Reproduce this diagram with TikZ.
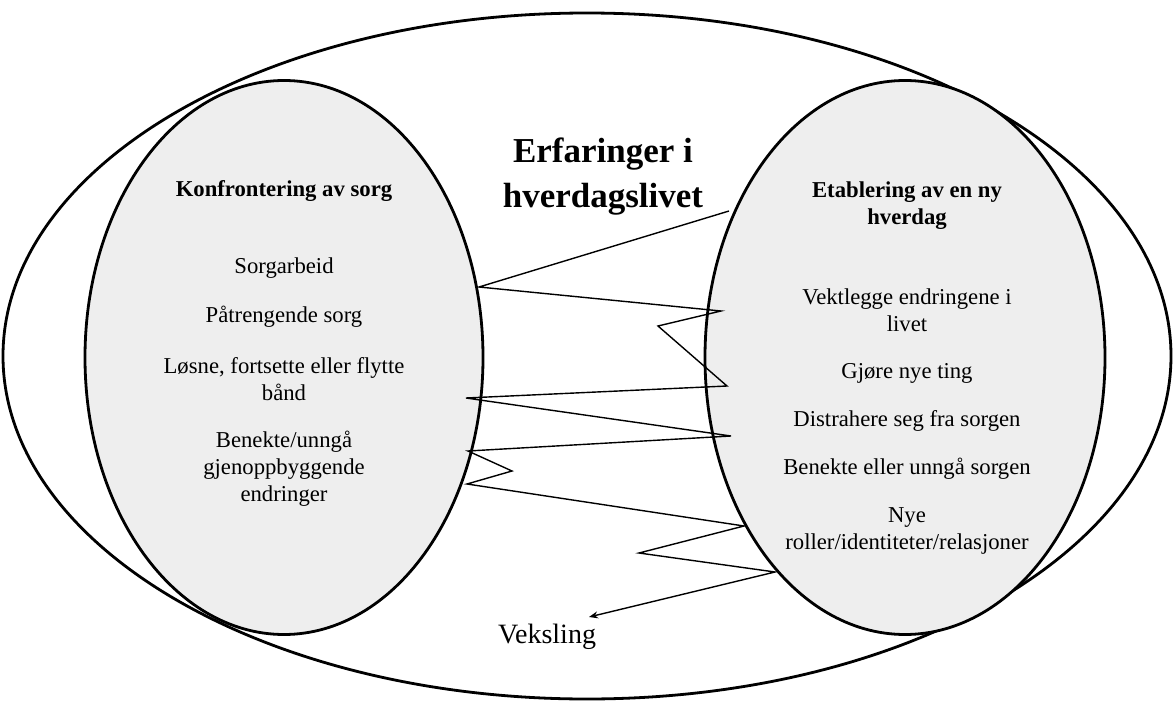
\documentclass[tikz,border=0pt]{standalone}
\usepackage{fontspec}
\setmainfont{Liberation Serif}
\usetikzlibrary{shapes.geometric,arrows.meta}
\definecolor{ovalgray}{HTML}{EEEEEE}
\begin{document}
\begin{tikzpicture}[x=1pt,y=-1pt,
  oval/.style={ellipse,draw=black,line width=2.8pt,inner sep=0pt,outer sep=0pt},
  body/.style={align=center,font=\fontsize{22.7}{27}\selectfont,inner sep=0pt},
  head/.style={align=center,font=\fontsize{22.7}{27}\selectfont\bfseries,inner sep=0pt},
  zig/.style={line width=1.4pt,line join=miter}]
\useasboundingbox (0,0) rectangle (1173,701);
\fill[white] (0,0) rectangle (1173,701);
% ellipses
\node[oval,fill=white,minimum width=1168pt,minimum height=686pt] (outer) at (587,356) {};
\node[oval,fill=ovalgray,minimum width=398pt,minimum height=554pt] (left) at (284,357.5) {};
\node[oval,fill=ovalgray,minimum width=400pt,minimum height=554pt] (right) at (905,357.5) {};
% title
\node[align=center,font=\fontsize{35}{45}\selectfont\bfseries,inner sep=0pt] (title) at (603,177) {Erfaringer i\\hverdagslivet};
% left texts
\node[head] (lh) at (284,191) {Konfrontering av sorg};
\node[body] (l1) at (284,268) {Sorgarbeid};
\node[body] (l2) at (284,317) {Påtrengende sorg};
\node[body] (l3) at (284,379) {Løsne, fortsette eller flytte\\bånd};
\node[body] (l4) at (284,469) {Benekte/unngå\\gjenoppbyggende\\endringer};
% right texts
\node[head] (rh) at (907,206) {Etablering av en ny\\hverdag};
\node[body] (r1) at (907,310) {Vektlegge endringene i\\livet};
\node[body] (r2) at (907,373) {Gjøre nye ting};
\node[body] (r3) at (907,421) {Distrahere seg fra sorgen};
\node[body] (r4) at (907,469) {Benekte eller unngå sorgen};
\node[body] (r5) at (907,531) {Nye\\roller/identiteter/relasjoner};
% Veksling
\node[font=\fontsize{28}{32}\selectfont,inner sep=0pt] (veks) at (547,637) {Veksling};
% zigzag
\coordinate (z1) at (729,211);
\coordinate (z2) at (479,287);
\coordinate (z3) at (721,311);
\coordinate (z4) at (658,326);
\coordinate (z5) at (727,386);
\coordinate (z6) at (466,398);
\coordinate (z7) at (731,436);
\coordinate (z8) at (468,451);
\coordinate (z9) at (512,471);
\coordinate (z10) at (467,484);
\coordinate (z11) at (744,526);
\coordinate (z12) at (639,553);
\coordinate (z13) at (775,572);
\coordinate (tip) at (589,617);
\draw[zig,-{Stealth[length=9pt,width=7pt]}] (z1) -- (z2) -- (z3) -- (z4) -- (z5) -- (z6) -- (z7) -- (z8) -- (z9) -- (z10) -- (z11) -- (z12) -- (z13) -- (tip);
\end{tikzpicture}
\end{document}
